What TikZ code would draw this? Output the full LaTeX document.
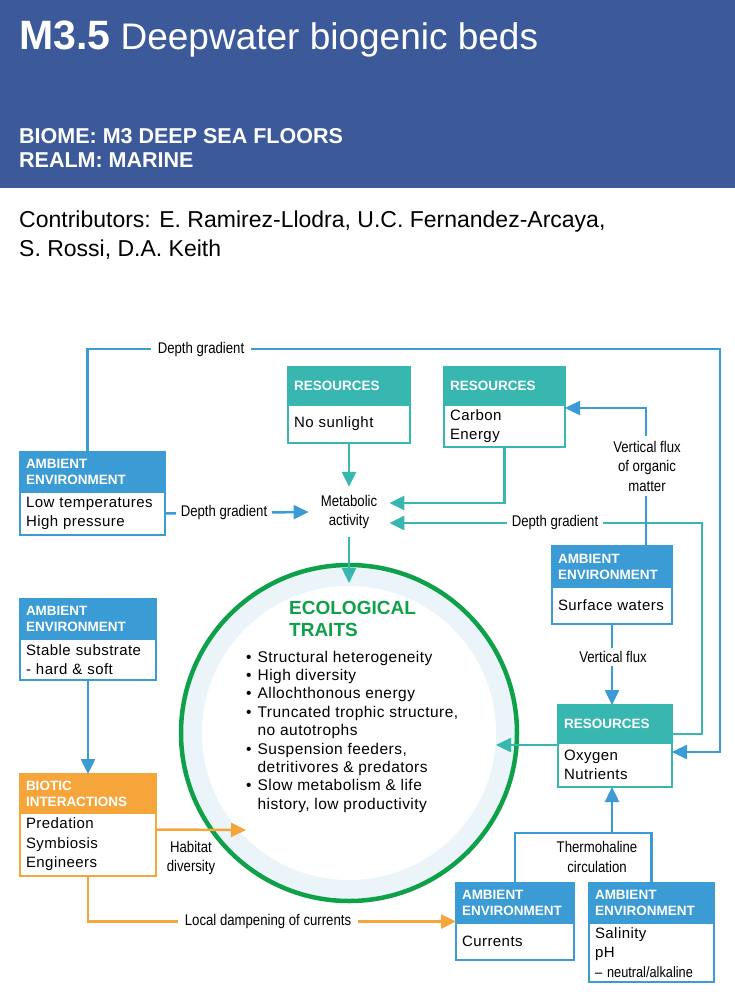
\documentclass[tikz,border=0pt]{standalone}
\usepackage{fontspec}
\setmainfont{Liberation Sans}
\newfontfamily\condfont{Liberation Sans}[FakeStretch=0.85]
\newfontfamily\bodyfont{Liberation Sans}[LetterSpace=3]
\usetikzlibrary{arrows.meta, positioning}
\definecolor{bandblue}{RGB}{60,90,154}
\definecolor{envblue}{RGB}{58,155,213}
\definecolor{resteal}{RGB}{56,183,177}
\definecolor{bioorange}{RGB}{246,165,59}
\definecolor{ecogreen}{RGB}{14,161,74}
\definecolor{ringpale}{RGB}{235,245,249}
\tikzset{
  boxhead/.style={fill=#1, draw=#1, line width=2.5pt, text=white, align=left, inner xsep=6pt, inner ysep=0pt, outer sep=0pt, font=\fontsize{13.5}{16}\selectfont\bfseries},
  boxbody/.style={fill=white, draw=#1, line width=2.5pt, align=left, inner xsep=6pt, inner ysep=0pt, outer sep=0pt, font=\bodyfont\fontsize{15}{19.5}\selectfont},
  flowlabel/.style={font=\condfont\fontsize{15.5}{19.5}\selectfont, align=center, inner xsep=5pt, inner ysep=3pt},
  link/.style={draw=#1, line width=2.5pt},
  arrowed/.style={-{Triangle[length=15pt,width=14pt]}}
}
\begin{document}
\begin{tikzpicture}[x=1pt, y=-1pt]
\useasboundingbox (0,0) rectangle (735,996);
\fill[bandblue] (0,0) rectangle (735,188);
\node[anchor=base west, text=white, inner sep=0pt, font=\fontsize{37}{40}\selectfont] (title) at (19,49) {{\fontsize{41}{44}\selectfont\bfseries M3.5} Deepwater biogenic beds};
\node[anchor=base west, text=white, inner sep=0pt, font=\bfseries\fontsize{21.5}{24}\selectfont] (biome) at (19,143) {BIOME: M3 DEEP SEA FLOORS};
\node[anchor=base west, text=white, inner sep=0pt, font=\bfseries\fontsize{21.5}{24}\selectfont] (realm) at (19,167) {REALM: MARINE};
\node[anchor=base west, inner sep=0pt, font=\fontsize{23}{29}\selectfont] (contribA) at (19,227) {Contributors: E. Ramirez-Llodra, U.C. Fernandez-Arcaya,};
\node[anchor=base west, inner sep=0pt, font=\fontsize{23}{29}\selectfont] (contribB) at (19,256) {S. Rossi, D.A. Keith};

\node[circle, draw=ecogreen, line width=4.5pt, fill=ringpale, minimum size=336pt, outer sep=0pt] (eco) at (349,733) {};
\node[circle, fill=white, minimum size=294pt, outer sep=0pt] (ecoIn) at (eco) {};
\node[anchor=west, align=left, text=ecogreen, inner sep=0pt, font=\bfseries\fontsize{19}{22}\selectfont] (ecoTitle) at (289,619) {ECOLOGICAL\\TRAITS};
\node[anchor=west, inner sep=0pt, font=\bodyfont\fontsize{15.5}{18.4}\selectfont] (traits) at (246,732) {\begin{tabular}{@{}l@{\hspace{6pt}}l@{}}
\textbullet & Structural heterogeneity\\
\textbullet & High diversity\\
\textbullet & Allochthonous energy\\
\textbullet & Truncated trophic structure,\\
 & no autotrophs\\
\textbullet & Suspension feeders,\\
 & detritivores \& predators\\
\textbullet & Slow metabolism \& life\\
 & history, low productivity
\end{tabular}};

\node[boxhead=envblue, text width=133pt, minimum height=40pt, anchor=north west] (envTemp) at (20,452) {AMBIENT\\ENVIRONMENT};
\node[boxbody=envblue, text width=133pt, minimum height=43pt, below=0pt of envTemp] (envTemp-b) {Low temperatures\\High pressure};

\node[boxhead=resteal, text width=110pt, minimum height=38pt, anchor=north west] (resSun) at (288,367) {RESOURCES};
\node[boxbody=resteal, text width=110pt, minimum height=38pt, below=0pt of resSun] (resSun-b) {No sunlight};

\node[boxhead=resteal, text width=109pt, minimum height=38pt, anchor=north west] (resCarb) at (444,367) {RESOURCES};
\node[boxbody=resteal, text width=109pt, minimum height=42pt, below=0pt of resCarb] (resCarb-b) {Carbon\\Energy};

\node[boxhead=envblue, text width=108pt, minimum height=41pt, anchor=north west] (envSurf) at (552,546) {AMBIENT\\ENVIRONMENT};
\node[boxbody=envblue, text width=108pt, minimum height=37pt, below=0pt of envSurf] (envSurf-b) {Surface waters};

\node[boxhead=resteal, text width=102pt, minimum height=38pt, anchor=north west] (resOxy) at (558,705) {RESOURCES};
\node[boxbody=resteal, text width=102pt, minimum height=44pt, below=0pt of resOxy] (resOxy-b) {Oxygen\\Nutrients};

\node[boxhead=envblue, text width=124pt, minimum height=40pt, anchor=north west] (envSub) at (20,599) {AMBIENT\\ENVIRONMENT};
\node[boxbody=envblue, text width=124pt, minimum height=41pt, below=0pt of envSub] (envSub-b) {Stable substrate\\- hard \& soft};

\node[boxhead=bioorange, text width=124pt, minimum height=39pt, anchor=north west] (bioInt) at (20,774) {BIOTIC\\INTERACTIONS};
\node[boxbody=bioorange, text width=124pt, minimum height=63pt, below=0pt of bioInt] (bioInt-b) {Predation\\Symbiosis\\Engineers};

\node[boxhead=envblue, text width=106pt, minimum height=40pt, anchor=north west] (envCurr) at (456,883) {AMBIENT\\ENVIRONMENT};
\node[boxbody=envblue, text width=106pt, minimum height=37pt, below=0pt of envCurr] (envCurr-b) {Currents};

\node[boxhead=envblue, text width=113pt, minimum height=40pt, anchor=north west] (envSal) at (589,883) {AMBIENT\\ENVIRONMENT};
\node[boxbody=envblue, text width=113pt, minimum height=59pt, below=0pt of envSal] (envSal-b) {Salinity\\pH\\{\condfont – neutral/alkaline}};

\node[flowlabel, inner xsep=12pt, inner ysep=8pt] (metab) at (349,512) {Metabolic\\activity};

\coordinate (ringTR) at (720,349);
\coordinate (tealTR) at (702,523);
\coordinate (oxyOut) at ([yshift=20pt]resOxy-b.west);
\coordinate (bioOut) at ([yshift=15pt]bioInt-b.east);
\coordinate (habTip) at (246,830);
\coordinate (thermo) at (612,833);

\draw[link=resteal, arrowed] (resSun-b.south) -- (metab.north);
\draw[link=resteal, arrowed] (resCarb-b.south) |- ([yshift=9pt]metab.east);
\draw[link=resteal, arrowed] ([yshift=-10pt]resOxy.east) -| (tealTR) -- ([yshift=-11pt]metab.east);
\draw[link=resteal, arrowed] (metab.south) -- ([yshift=-18pt]eco.north);
\draw[link=resteal, arrowed] (oxyOut) -- (oxyOut -| ecoIn.east);
\draw[link=envblue, arrowed] ([xshift=-5pt]envTemp.north) |- (ringTR) |- ([yshift=13pt]resOxy-b.east);
\draw[link=envblue, arrowed] (envTemp-b.east) -- (metab.west);
\draw[link=envblue, arrowed] ([xshift=34pt]envSurf.north) |- ([yshift=18pt]resCarb-b.east);
\draw[link=envblue, arrowed] (envSurf-b.south) -- (envSurf-b.south |- resOxy.north);
\draw[link=envblue, arrowed] (envSub-b.south) -- (bioInt.north);
\draw[link=envblue] (envCurr.north) |- (thermo) -| (envSal.north);
\draw[link=envblue, arrowed] (thermo) -- (thermo |- resOxy-b.south);
\draw[link=bioorange, arrowed] (bioOut) -- (habTip);
\draw[link=bioorange, arrowed] (bioInt-b.south) |- ([yshift=20pt]envCurr-b.west);

\node[flowlabel, fill=white, inner xsep=7pt] (lblDepthTop) at (201,349) {Depth gradient};
\node[flowlabel, fill=white] (lblDepthMid) at (224,512) {Depth gradient};
\node[flowlabel, fill=white] (lblDepthRight) at (555,522) {Depth gradient};
\node[flowlabel, fill=white, inner ysep=5pt] (lblOrganic) at (647,466) {Vertical flux\\of organic\\matter};
\node[flowlabel, fill=white] (lblFlux) at (613,657) {Vertical flux};
\node[flowlabel] (lblHabitat) at (191,858) {Habitat\\diversity};
\node[flowlabel, fill=white, inner xsep=7pt] (lblDamp) at (268,921) {Local dampening of currents};
\node[flowlabel] (lblThermo) at (597,857) {Thermohaline\\circulation};
\end{tikzpicture}
\end{document}
